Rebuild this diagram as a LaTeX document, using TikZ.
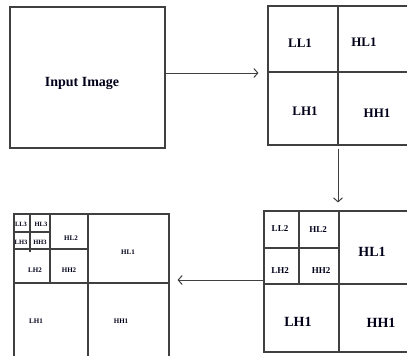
\documentclass[tikz,border=0pt]{standalone}
\usepackage{fontspec}
\setmainfont{Liberation Serif}
\usetikzlibrary{arrows.meta}
\begin{document}
\begin{tikzpicture}[x=1pt,y=-1pt,
  ln/.style={draw=black!75,line width=1.1pt},
  box/.style={ln,rectangle,inner sep=0pt,minimum width=#1},
  arr/.style={draw=black!75,line width=1pt,-{Straight Barb[length=4pt,width=9pt,line width=1pt]}},
  lab/.style={inner sep=0pt,text=black!90!blue,font=\bfseries\fontsize{#1}{#1}\selectfont}]
\path[use as bounding box] (0,0) rectangle (407,356);
\clip (0,0) rectangle (407,356);
% boxes
\node[box=155pt,minimum height=141pt] (in) at (87.5,77.5) {};
\node[box=145pt,minimum height=139pt] (l1) at (340.5,75.5) {};
\node[box=149pt,minimum height=141pt] (l2) at (338.5,281.5) {};
\node[box=155pt,minimum height=150pt] (l3) at (91.5,289) {};
% top-right subdivisions
\draw[ln] (338,6) -- (338,145);
\draw[ln] (268,72) -- (413,72);
% bottom-right subdivisions
\draw[ln] (339,211) -- (339,352);
\draw[ln] (264,284) -- (413,284);
\draw[ln] (299,211) -- (299,285);
\draw[ln] (264,248) -- (339,248);
% bottom-left subdivisions
\draw[ln] (88,214) -- (88,364);
\draw[ln] (14,283) -- (169,283);
\draw[ln] (50,214) -- (50,283);
\draw[ln] (14,249) -- (88,249);
\draw[ln] (30,214) -- (30,252);
\draw[ln] (14,232) -- (50,232);
% labels
\node[lab=14] (tin) at (82,83) {Input Image};
\node[lab=13] (a1) at (300,43) {LL1};
\node[lab=13] (a2) at (364,42) {HL1};
\node[lab=13] (a3) at (305,111) {LH1};
\node[lab=13] (a4) at (377,113) {HH1};
\node[lab=9] (b1) at (280,229) {LL2};
\node[lab=9] (b2) at (318,230) {HL2};
\node[lab=9] (b3) at (280,271) {LH2};
\node[lab=9] (b4) at (321,271) {HH2};
\node[lab=14] (b5) at (372,252) {HL1};
\node[lab=14] (b6) at (298,322) {LH1};
\node[lab=14] (b7) at (381,323) {HH1};
\node[lab=6.5] (c1) at (21,224) {LL3};
\node[lab=6.5] (c2) at (41,224) {HL3};
\node[lab=6.5] (c3) at (21,242) {LH3};
\node[lab=6.5] (c4) at (40,242) {HH3};
\node[lab=7] (c5) at (71,238) {HL2};
\node[lab=7] (c6) at (35,270) {LH2};
\node[lab=7] (c7) at (69,270) {HH2};
\node[lab=7] (c8) at (128,252) {HL1};
\node[lab=7] (c9) at (36,321) {LH1};
\node[lab=7] (c10) at (121,321) {HH1};
% connectors
\coordinate (r1) at (0,73);
\coordinate (v1) at (338,0);
\coordinate (r2) at (0,280);
\draw[arr,shorten >=9pt] (in.east |- r1) -- (l1.west |- r1);
\draw[arr,shorten <=3pt,shorten >=8pt] (l1.south -| v1) -- (l2.north -| v1);
\draw[arr,shorten >=8pt] (l2.west |- r2) -- (l3.east |- r2);
\end{tikzpicture}
\end{document}
